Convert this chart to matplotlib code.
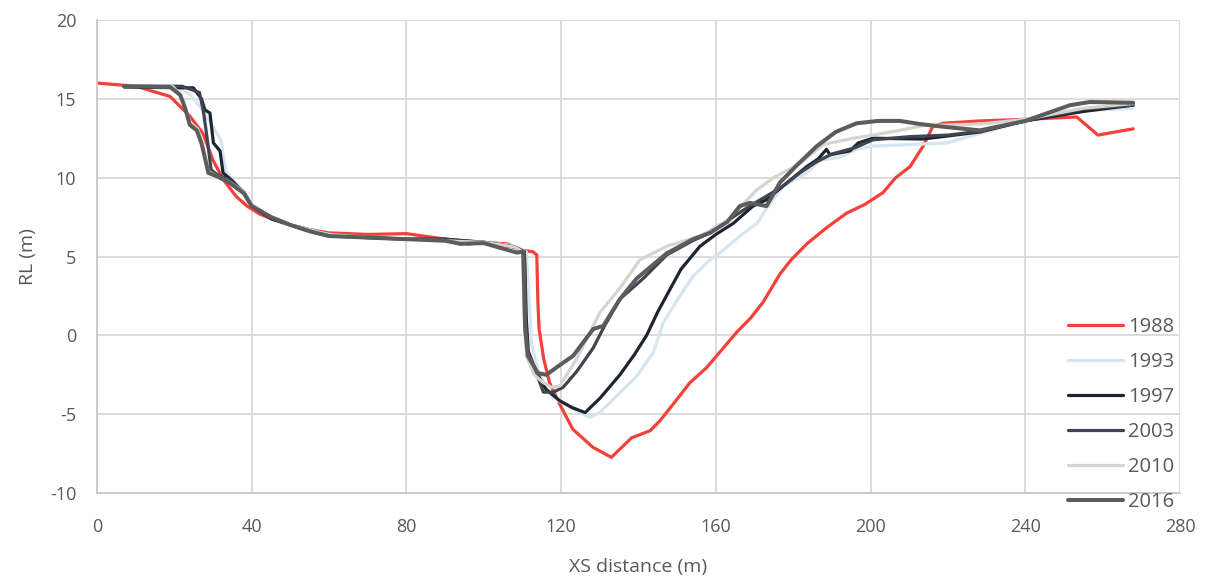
import matplotlib
matplotlib.use("Agg")
import matplotlib.pyplot as plt

plt.rcParams['font.family'] = ['Open Sans', 'DejaVu Sans']
plt.rcParams['axes.unicode_minus'] = False

years = ["1988", "1993", "1997", "2003", "2010", "2016"]
colors = ["#f4403a", "#d6e6f0", "#1f2530", "#3e4550", "#d4d4d0", "#5c5c5c"]
widths = [2.3, 2.3, 2.3, 2.3, 2.3, 2.9]

x_1988 = [0, 10, 18.9, 24, 27.4, 30, 32.6, 36, 38.8, 42, 46, 50, 55, 60, 70, 80, 90, 100, 106, 110,
          112.7, 113.7, 114.0, 114.3, 115.5, 117, 119.7, 123, 128.2, 133, 138.2, 143, 145.6, 149.5,
          153.3, 157.6, 160.2, 165.4, 169, 172.2, 176.6, 179.5, 183.5, 188.5, 193.8, 198.5, 203.2,
          206.5, 210.2, 213.6, 216.1, 218.7, 228.3, 240, 253.3, 258.8, 267.9]
y_1988 = [16.0, 15.8, 15.15, 13.9, 12.8, 11.1, 9.9, 8.8, 8.2, 7.7, 7.3, 7.0, 6.7, 6.5, 6.4, 6.45, 6.1,
          5.9, 5.8, 5.4, 5.3, 5.1, 2.0, 0.4, -1.5, -3.0, -4.4, -5.95, -7.1, -7.74, -6.5, -6.05, -5.4,
          -4.2, -3.0, -2.05, -1.3, 0.2, 1.1, 2.1, 3.9, 4.8, 5.8, 6.8, 7.75, 8.3, 9.05, 10.0, 10.7,
          12.0, 13.25, 13.45, 13.6, 13.7, 13.85, 12.7, 13.1]

x_1993 = [7, 20, 24, 27, 30, 32, 33.3, 36, 40, 45, 50, 55, 60, 70, 80, 90, 100, 107, 111, 111.8,
          112.3, 114, 116, 118, 120.5, 124, 127.5, 130, 133.5, 139.5, 143.8, 146.4, 150.7, 154.1,
          158.5, 161.1, 166.2, 170.6, 173, 177.4, 183.5, 186.9, 192.1, 196.4, 200.6, 210, 219.7,
          228.3, 240, 250, 267.9]
y_1993 = [15.8, 15.8, 15.3, 14.4, 13.2, 12.4, 10.4, 9.6, 8.3, 7.5, 7.0, 6.6, 6.4, 6.2, 6.1, 6.0, 5.9,
          5.7, 5.3, 2.0, -0.5, -2.2, -3.3, -4.0, -4.3, -4.8, -5.2, -4.9, -4.05, -2.6, -1.1, 0.8, 2.5,
          3.75, 4.8, 5.24, 6.3, 7.1, 8.0, 9.45, 10.3, 11.1, 11.3, 11.8, 12.0, 12.1, 12.2, 12.8, 13.6,
          14.2, 14.4]

x_1997 = [7, 21.9, 24.9, 27, 27.9, 29.2, 30.1, 31.8, 32.6, 35, 38, 40, 45, 50, 55, 60, 70, 80, 90,
          100, 108, 110.5, 111, 111.5, 113.5, 116, 119.7, 123, 126.2, 130, 135.2, 139, 142.1, 145,
          148.1, 151, 155.9, 160, 164.5, 169.6, 173.1, 178.3, 183.5, 186.5, 188.6, 189.5, 194.7,
          196.8, 200.6, 213.6, 228.3, 240, 255, 267.9]
y_1997 = [15.75, 15.7, 15.7, 15.0, 14.3, 14.1, 12.2, 11.7, 10.3, 9.8, 9.0, 8.2, 7.4, 7.0, 6.6, 6.3,
          6.2, 6.1, 6.1, 5.9, 5.6, 5.3, 1.0, -1.0, -2.3, -3.4, -4.16, -4.6, -4.9, -4.0, -2.5, -1.2,
          0.0, 1.5, 2.9, 4.2, 5.65, 6.4, 7.1, 8.2, 8.6, 9.66, 10.7, 11.2, 11.8, 11.45, 11.7, 12.2,
          12.5, 12.45, 12.9, 13.6, 14.2, 14.6]

x_2003 = [7, 22, 26.5, 27.5, 28.2, 29.5, 31, 34, 38, 40, 45, 50, 55, 60, 70, 80, 90, 96, 100, 108,
          110.5, 110.8, 111.2, 113, 115.4, 118, 120.5, 124, 128.3, 131, 135.2, 141.2, 147.3, 154,
          158.5, 166.2, 168.8, 171.5, 177, 181.7, 186, 190, 196, 200.6, 210, 220, 228.3, 240, 255,
          267.9]
y_2003 = [15.8, 15.8, 15.4, 14.2, 13.0, 10.5, 10.2, 9.9, 9.1, 8.2, 7.5, 7.0, 6.7, 6.4, 6.2, 6.1,
          6.1, 5.8, 5.9, 5.6, 5.2, 1.0, -1.0, -2.0, -3.6, -3.6, -3.3, -2.3, -0.8, 0.5, 2.3, 3.6, 5.1,
          6.0, 6.5, 7.8, 8.2, 8.6, 9.4, 10.3, 11.0, 11.5, 11.9, 12.4, 12.6, 12.7, 12.95, 13.6,
          14.35, 14.6]

x_2010 = [7, 19.5, 21.5, 22.8, 24, 26, 27, 28.8, 31, 34.4, 38, 40, 45, 50, 55, 60, 70, 80, 90, 100,
          108, 110, 110.4, 111, 113, 115.4, 117.5, 119.7, 124, 130, 135.2, 140.4, 147.3, 156, 163,
          170.5, 174.8, 181.7, 187.8, 195.5, 200.6, 207.6, 213.6, 228.3, 240, 255, 267.9]
y_2010 = [15.8, 15.8, 15.3, 14.4, 13.5, 13.1, 12.3, 10.4, 10.1, 9.7, 9.1, 8.3, 7.5, 7.0, 6.7, 6.4,
          6.2, 6.1, 6.0, 5.9, 5.6, 5.3, 1.5, -1.3, -2.5, -3.0, -3.3, -3.2, -1.5, 1.44, 3.0, 4.8,
          5.65, 6.3, 7.3, 9.2, 9.98, 10.9, 12.1, 12.5, 12.7, 13.0, 13.3, 13.4, 13.7, 14.4, 14.7]

x_2016 = [7, 18.9, 21.5, 22.8, 24, 25.8, 27, 28.8, 30.9, 34.4, 38, 40, 45, 50, 55, 60, 70, 80, 90,
          94, 100, 108.5, 110.2, 110.7, 111.4, 114, 116.2, 119, 123.1, 128.3, 130.9, 135.2, 139.5,
          147.3, 154.1, 158.5, 163, 166.2, 168.8, 171, 173.1, 176.6, 181, 186.1, 191, 196.4, 202,
          207.6, 212.8, 218, 228.3, 240, 251.6, 256.7, 267.9]
y_2016 = [15.8, 15.75, 15.25, 14.4, 13.35, 13.0, 12.2, 10.3, 10.1, 9.66, 9.0, 8.2, 7.5, 7.0, 6.6,
          6.3, 6.2, 6.1, 6.0, 5.8, 5.85, 5.25, 5.3, 0.4, -1.3, -2.4, -2.5, -2.0, -1.3, 0.4, 0.6, 2.3,
          3.6, 5.2, 6.1, 6.5, 7.2, 8.2, 8.4, 8.3, 8.2, 9.7, 10.8, 12.0, 12.9, 13.45, 13.6, 13.6, 13.4,
          13.25, 13.0, 13.6, 14.6, 14.8, 14.75]

xs = [x_1988, x_1993, x_1997, x_2003, x_2010, x_2016]
ys = [y_1988, y_1993, y_1997, y_2003, y_2010, y_2016]

x_ticks = [0, 40, 80, 120, 160, 200, 240, 280]
y_ticks = [-10, -5, 0, 5, 10, 15, 20]

fig = plt.figure(figsize=(12.1, 5.79), dpi=100)
ax = fig.add_axes([97 / 1210, 1 - 493 / 579, (1180 - 97) / 1210, (493 - 20) / 579])

for xv, yv, lab, c, w in zip(xs, ys, years, colors, widths):
    ax.plot(xv, yv, color=c, lw=w, label=lab, solid_joinstyle='round', solid_capstyle='round')

ax.set_xlim(0, 280)
ax.set_ylim(-10, 20)
ax.set_xticks(x_ticks)
ax.set_yticks(y_ticks)
ax.grid(True, color="#d9d9d9", lw=1.3)
ax.set_axisbelow(True)
for s in ["top", "right"]:
    ax.spines[s].set_visible(False)
for s in ["left", "bottom"]:
    ax.spines[s].set_color("#c8c8c8")
    ax.spines[s].set_linewidth(1.3)
ax.tick_params(axis="both", length=0, labelsize=13, colors="#595959")
ax.tick_params(axis="y", pad=15)
ax.tick_params(axis="x", pad=18)

ax.set_xlabel("XS distance (m)", fontsize=14, color="#595959", labelpad=16)
ax.set_ylabel("RL (m)", fontsize=14, color="#595959", labelpad=9)

leg = ax.legend(loc="lower right", bbox_to_anchor=(1174 / 1210, (579 - 512) / 579),
                bbox_transform=fig.transFigure, frameon=False, fontsize=14.5,
                handlelength=2.7, handletextpad=0.25, labelspacing=0.74,
                borderpad=0, borderaxespad=0)
for t in leg.get_texts():
    t.set_color("#595959")

fig.savefig("out.png", dpi=100)
